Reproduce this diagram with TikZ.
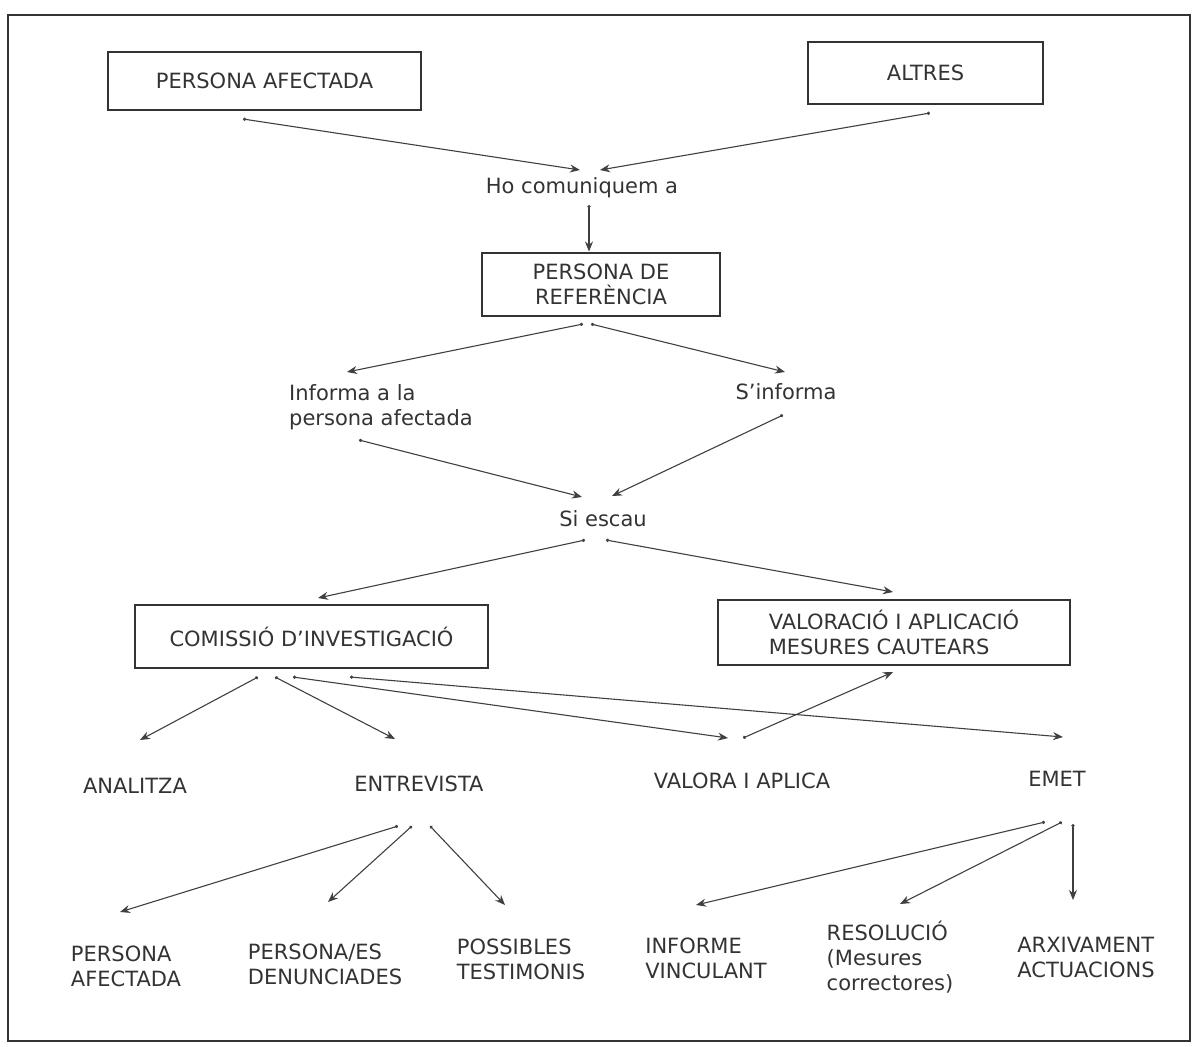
\documentclass[tikz,border=0pt]{standalone}
\usepackage{fontspec}
\setmainfont{DejaVu Sans}
\usetikzlibrary{arrows.meta,calc}
\begin{document}
\begin{tikzpicture}
[x=0.5pt, y=-0.5pt,
 nodes={font=\fontsize{10.5}{12.5}\selectfont, text=black!80},
 box/.style={draw=black!80, line width=0.6pt, inner sep=0pt},
 bigbox/.style={box, line width=1.1pt},
 txt/.style={inner sep=0pt, align=left},
 arr/.style={draw=black!75, line width=0.55pt, {Circle[length=1.6pt]}-{Stealth[length=5pt,width=4pt]}}]
\useasboundingbox (0,0) rectangle (1201,1046);
\draw[line width=1pt, black!80] (8,15) rectangle (1190,1041);
% boxes and labels
\node[box, minimum width=156.5pt, minimum height=29pt] (pa) at (264.5,81) {PERSONA AFECTADA};
\node[box, minimum width=117.5pt, minimum height=31pt] (alt) at (925.5,73) {ALTRES};
\node[txt] (ho) at (582,188) {Ho comuniquem a};
\node[bigbox, minimum width=119pt, minimum height=31.5pt, align=center] (ref) at (601,284.5) {PERSONA DE\\REFERÈNCIA};
\node[txt] (inf) at (381,407.5) {Informa a la\\persona afectada};
\node[txt] (sinf) at (786,392) {S’informa};
\node[txt] (esc) at (603,519) {Si escau};
\node[bigbox, minimum width=176.5pt, minimum height=31.5pt] (com) at (311.5,636.5) {COMISSIÓ D’INVESTIGACIÓ};
\node[bigbox, minimum width=176pt, minimum height=32.5pt, align=left] (val) at (894,632.5) {VALORACIÓ I APLICACIÓ\\MESURES CAUTEARS};
\node[txt] (anal) at (135,786) {ANALITZA};
\node[txt] (entr) at (419,784) {ENTREVISTA};
\node[txt] (valo) at (742,781) {VALORA I APLICA};
\node[txt] (emet) at (1057,779) {EMET};
\node[txt] (b1) at (126,966.5) {PERSONA\\AFECTADA};
\node[txt] (b2) at (325,964.5) {PERSONA/ES\\DENUNCIADES};
\node[txt] (b3) at (521,959.5) {POSSIBLES\\TESTIMONIS};
\node[txt] (b4) at (706,958.5) {INFORME\\VINCULANT};
\node[txt] (b5) at (890,957.5) {RESOLUCIÓ\\(Mesures\\correctores)};
\node[txt] (b6) at (1086,957.5) {ARXIVAMENT\\ACTUACIONS};
% connectors
\draw[arr] ($(pa)+(-21.5,38)$) -- ($(ho)+(-2,-18)$);
\draw[arr] ($(alt)+(4.5,40)$) -- ($(ho)+(18,-18)$);
\draw[arr] ($(ho)+(7,17)$) -- ($(ref)+(-12,-33)$);
\draw[arr] ($(ref)+(-18,39.5)$) -- ($(inf)+(-34,-35.5)$);
\draw[arr] ($(ref)+(-10,39.5)$) -- ($(sinf)+(-1,-20)$);
\draw[arr] ($(inf)+(-22,32.5)$) -- ($(esc)+(-21,-22)$);
\draw[arr] ($(sinf)+(-3,23)$) -- ($(esc)+(9,-23)$);
\draw[arr] ($(esc)+(-18,21)$) -- ($(com)+(6.5,-38.5)$);
\draw[arr] ($(esc)+(3,21)$) -- ($(val)+(-1,-40.5)$);
\draw[arr] ($(com)+(-53.5,40.5)$) -- ($(anal)+(5,-46)$);
\draw[arr] ($(com)+(-36.5,40.5)$) -- ($(entr)+(-24,-45)$);
\draw[arr] ($(com)+(-18.5,40.5)$) -- ($(valo)+(-14,-43)$);
\draw[arr] ($(com)+(38.5,40.5)$) -- ($(emet)+(6,-42)$);
\draw[arr] ($(valo)+(1,-43)$) -- ($(val)+(-1,39.5)$);
\draw[arr] ($(entr)+(-21,42)$) -- ($(b1)+(-6,-54.5)$);
\draw[arr] ($(entr)+(-7,42)$) -- ($(b2)+(3,-62.5)$);
\draw[arr] ($(entr)+(11,42)$) -- ($(b3)+(-16,-54.5)$);
\draw[arr] ($(emet)+(-12,43)$) -- ($(b4)+(-10,-53.5)$);
\draw[arr] ($(emet)+(5,43)$) -- ($(b5)+(10,-53.5)$);
\draw[arr] ($(emet)+(16,45)$) -- ($(b6)+(-13,-57.5)$);
\end{tikzpicture}
\end{document}
